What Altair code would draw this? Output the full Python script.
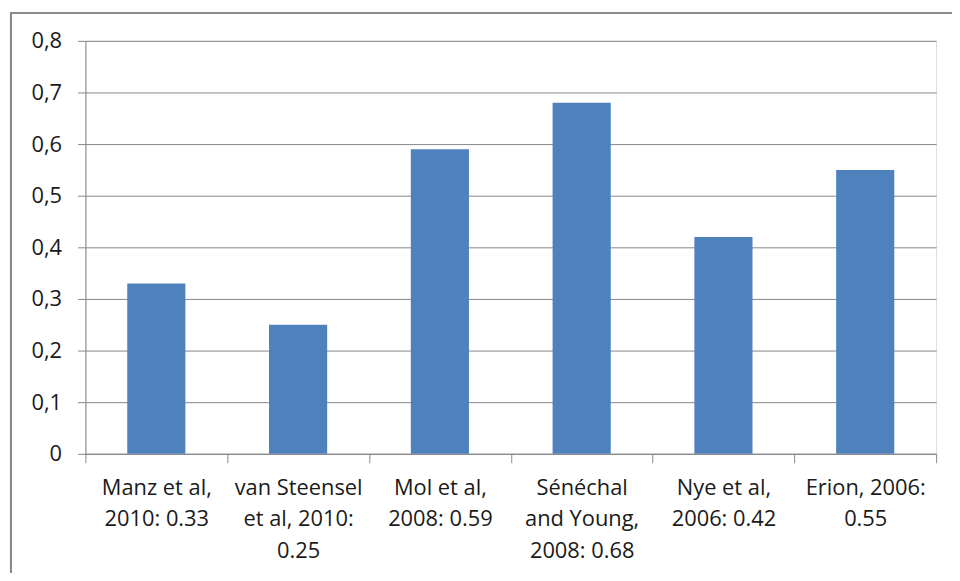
import altair as alt
import pandas as pd

studies = [
    "Manz et al,|2010: 0.33",
    "van Steensel|et al, 2010:|0.25",
    "Mol et al,|2008: 0.59",
    "Sénéchal|and Young,|2008: 0.68",
    "Nye et al,|2006: 0.42",
    "Erion, 2006:|0.55",
]
values = [0.33, 0.25, 0.59, 0.68, 0.42, 0.55]
y_ticks = [0, 0.1, 0.2, 0.3, 0.4, 0.5, 0.6, 0.7, 0.8]

df = pd.DataFrame({"study": studies, "value": values})

FONT = "Open Sans"
GRAY = "#878787"

bars = alt.Chart(df).mark_bar(color="#4F81BD", width=alt.RelativeBandSize(0.41)).encode(
    x=alt.X(
        "study:N",
        sort=studies,
        scale=alt.Scale(paddingInner=0, paddingOuter=0),
        axis=alt.Axis(
            title=None,
            labelAngle=0,
            labelExpr="split(datum.label, '|')",
            labelFont=FONT,
            labelFontSize=22,
            labelLineHeight=31.5,
            labelColor="#1a1a1a",
            labelPadding=15,
            labelBaseline="top",
            tickBand="extent",
            tickSize=9,
            tickColor=GRAY,
            domainColor=GRAY,
            grid=False,
            labelLimit=0,
        ),
    ),
    y=alt.Y(
        "value:Q",
        scale=alt.Scale(domain=[0, 0.8], nice=False),
        axis=alt.Axis(
            title=None,
            values=y_ticks,
            labelExpr="datum.value == 0 ? '0' : replace(format(datum.value, '.1f'), '.', ',')",
            labelFont=FONT,
            labelFontSize=22,
            labelColor="#1a1a1a",
            labelPadding=16,
            tickSize=8,
            tickColor=GRAY,
            domainColor=GRAY,
            grid=True,
            gridColor=GRAY,
        ),
    ),
)

frame_left = alt.Chart(df).mark_rule(color="#8c8c8c", strokeWidth=2).encode(
    x=alt.value(-75), y=alt.value(-27), y2=alt.value(560)
)
frame_top = alt.Chart(df).mark_rule(color="#8c8c8c", strokeWidth=2).encode(
    x=alt.value(-76), x2=alt.value(880), y=alt.value(-28)
)

chart = alt.layer(bars, frame_left, frame_top).properties(
    width=857,
    height=416,
    autosize=alt.AutoSizeParams(type="none"),
    padding={"left": 78, "top": 31, "right": 16, "bottom": 118},
).configure_view(stroke=None).configure(background="white")

chart.save("out.html", embed_options={"renderer": "svg", "actions": False})
